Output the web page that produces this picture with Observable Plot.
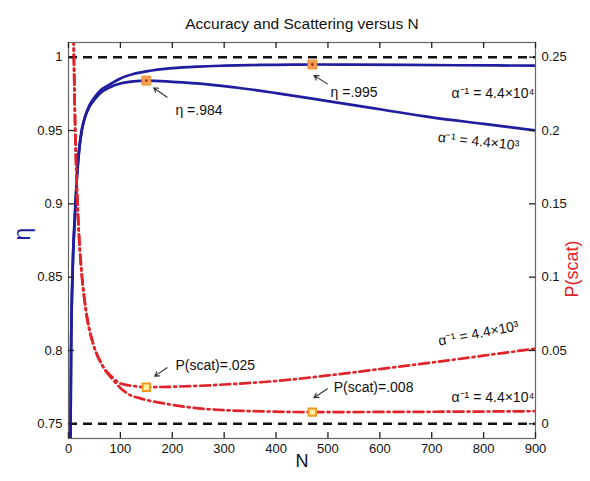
<!DOCTYPE html>
<html><head><meta charset="utf-8">
<script src="https://cdn.jsdelivr.net/npm/d3@7"></script>
<script src="https://cdn.jsdelivr.net/npm/@observablehq/plot@0.6"></script>
<style>
body{margin:0;background:#fff;}
#chart svg{font-family:"Liberation Sans",Arial,Helvetica,sans-serif;background:#fff;}
</style>
</head><body><div id="chart"></div>
<script>
// ---- data ----
const title = "Accuracy and Scattering versus N";
const xTicks = [0,100,200,300,400,500,600,700,800,900];
const etaTicks = [0.75,0.8,0.85,0.9,0.95,1];
const etaTickLabels = ["0.75","0.8","0.85","0.9","0.95","1"];
const pTickLabels = ["0","0.05","0.1","0.15","0.2","0.25"];
const refEta = [1, 0.75];

// eta, alpha^-1 = 4.4x10^4
const nEtaA4 = [3,5,8,12,16,20,25,30,40,50,60,80,100,125,150,200,250,300,350,400,470,550,650,750,900];
const etaA4  = [0.70,0.80,0.855,0.89,0.917,0.935,0.949,0.957,0.967,0.9725,0.9768,0.9815,0.9855,0.9885,0.9903,0.9925,0.9936,0.9942,0.9946,0.9948,0.995,0.9949,0.9947,0.9945,0.9942];
// eta, alpha^-1 = 4.4x10^3
const nEtaA3 = [3,5,8,12,16,20,25,30,40,50,60,80,100,125,150,200,268,330,400,500,600,700,800,900];
const etaA3  = [0.70,0.80,0.855,0.89,0.917,0.935,0.949,0.957,0.966,0.971,0.975,0.9795,0.982,0.9835,0.984,0.9832,0.9815,0.979,0.9755,0.970,0.9645,0.959,0.9545,0.950];
// P(scat), alpha^-1 = 4.4x10^3
const nPA3 = [8,10,12,15,19,25,30,36,48,65,87,100,125,150,200,250,300,350,400,500,600,700,800,900];
const pA3  = [0.32,0.26,0.217,0.173,0.137,0.104,0.087,0.072,0.054,0.040,0.031,0.0275,0.0258,0.025,0.0253,0.0259,0.0268,0.0279,0.0292,0.0330,0.0373,0.0418,0.0465,0.0513];
// P(scat), alpha^-1 = 4.4x10^4
const nPA4 = [8,10,12,15,19,25,30,36,48,65,87,100,113,140,178,242,307,371,470,600,750,900];
const pA4  = [0.32,0.26,0.217,0.173,0.137,0.104,0.087,0.072,0.054,0.040,0.0295,0.0245,0.0208,0.0172,0.0143,0.0109,0.0092,0.0085,0.0080,0.0081,0.0083,0.0086];

const etaMarkN = [150, 470];
const etaMarkV = [0.984, 0.995];
const pMarkN = [150, 470];
const pMarkV = [0.025, 0.008];

// annotations (anchored in data space: N, eta)
const noteText = ["η =.984", "η =.995", "P(scat)=.025", "P(scat)=.008"];
const noteN    = [206, 505, 206, 511];
const noteEta  = [0.9636, 0.9762, 0.7898, 0.7746];
const arrowN1  = [190, 499, 190, 499];
const arrowE1  = [0.9727, 0.9818, 0.7882, 0.7739];
const arrowN2  = [164, 473, 166, 473];
const arrowE2  = [0.9791, 0.9875, 0.7825, 0.7678];
const alphaBlue4 = {text: "α⁻¹ = 4.4×10⁴", n: 898, eta: 0.9752};
const alphaBlue3 = {text: "α⁻¹ = 4.4×10³", n: 790, eta: 0.9425};
const alphaRed3  = {text: "α⁻¹ = 4.4×10³", n: 790, eta: 0.8116};
const alphaRed4  = {text: "α⁻¹ = 4.4×10⁴", n: 898, eta: 0.7680};

// ---- build tables ----
const P0 = 0.75; // right axis: P(scat) = eta - 0.75
const blue4 = nEtaA4.map((n,i)=>({n, v: etaA4[i]}));
const blue3 = nEtaA3.map((n,i)=>({n, v: etaA3[i]}));
const red3 = nPA3.map((n,i)=>({n, v: pA3[i] + P0}));
const red4 = nPA4.map((n,i)=>({n, v: pA4[i] + P0}));
const etaMarks = etaMarkN.map((n,i)=>({n, v: etaMarkV[i]}));
const pMarks = pMarkN.map((n,i)=>({n, v: pMarkV[i] + P0}));
const notes = noteText.map((t,i)=>({t, n: noteN[i], v: noteEta[i], x1: arrowN1[i], y1: arrowE1[i], x2: arrowN2[i], y2: arrowE2[i]}));

const BLUE = "#1e1e9e", RED = "#e0242a";
const etaLabel = new Map(etaTicks.map((d,i)=>[d, etaTickLabels[i]]));
const pLabel = new Map(etaTicks.map((d,i)=>[d, pTickLabels[i]]));

const W = 590, H = 481, ML = 68, MR = 55, MT = 42, MB = 43;
const FW = W - ML - MR, FH = H - MT - MB, TICK = 6;
const tickStyle = {stroke: "#222", strokeWidth: 1.3};

const chart = Plot.plot({
  width: W, height: H,
  marginLeft: ML, marginRight: MR, marginTop: MT, marginBottom: MB,
  style: {fontFamily: "'Liberation Sans', Arial, sans-serif", fontSize: "13px", color: "#111"},
  x: {domain: [0, 900]},
  y: {domain: [0.74, 1.01]},
  marks: [
    Plot.ruleY(refEta, {stroke: "#111", strokeWidth: 2.5, strokeDasharray: "9,6"}),
    Plot.line(blue4, {x: "n", y: "v", stroke: BLUE, strokeWidth: 2.7, curve: "monotone-x", clip: true}),
    Plot.line(blue3, {x: "n", y: "v", stroke: BLUE, strokeWidth: 2.7, curve: "monotone-x", clip: true}),
    Plot.line(red3, {x: "n", y: "v", stroke: RED, strokeWidth: 2.7, strokeDasharray: "10,4,2,4", curve: "monotone-x", clip: true}),
    Plot.line(red4, {x: "n", y: "v", stroke: RED, strokeWidth: 2.7, strokeDasharray: "10,4,2,4", curve: "monotone-x", clip: true}),
    Plot.dot(etaMarks, {x: "n", y: "v", symbol: "square", r: 5, fill: "#f2a250", stroke: "#ea8c30", strokeWidth: 1}),
    Plot.dot(etaMarks, {x: "n", y: "v", r: 1.4, fill: "#b4282c"}),
    Plot.dot(pMarks, {x: "n", y: "v", symbol: "square", r: 4.2, fill: "#fff0a0", stroke: "#f09a20", strokeWidth: 2}),
    Plot.arrow(notes, {x1: "x1", y1: "y1", x2: "x2", y2: "y2", stroke: "#333", strokeWidth: 1.1, headLength: 7}),
    Plot.text(notes, {x: "n", y: "v", text: "t", textAnchor: "start", fontSize: 14, fill: "#111"}),
    Plot.text([alphaBlue4, alphaRed4], {x: "n", y: "eta", text: "text", textAnchor: "end", fontSize: 14, fill: "#111"}),
    Plot.text([alphaBlue3], {x: "n", y: "eta", text: "text", rotate: 6, fontSize: 14, fill: "#111"}),
    Plot.text([alphaRed3], {x: "n", y: "eta", text: "text", rotate: -11, fontSize: 14, fill: "#111"}),
    Plot.frame({stroke: "#666", strokeWidth: 1.2}),
    // inward ticks on all four sides (short rules inset from the frame)
    Plot.ruleX(xTicks, {x: d => d, insetTop: FH - TICK, ...tickStyle}),
    Plot.ruleX(xTicks, {x: d => d, insetBottom: FH - TICK, ...tickStyle}),
    Plot.ruleY(etaTicks, {y: d => d, insetRight: FW - TICK, ...tickStyle}),
    Plot.ruleY(etaTicks, {y: d => d, insetLeft: FW - TICK, ...tickStyle}),
    // tick labels
    Plot.axisX({anchor: "bottom", ticks: xTicks, tickSize: 0, tickPadding: 5, tickFormat: d => String(d), fontSize: 13, fill: "#111"}),
    Plot.axisY({anchor: "left", ticks: etaTicks, tickSize: 0, tickPadding: 6, tickFormat: d => etaLabel.get(d), fontSize: 13, fill: "#111"}),
    Plot.axisY({anchor: "right", ticks: etaTicks, tickSize: 0, tickPadding: 6, tickFormat: d => pLabel.get(d), fontSize: 13, fill: "#111"}),
    // titles
    Plot.text([title], {frameAnchor: "top", dy: -25, fontSize: 15.5, fill: "#111"}),
    Plot.text(["N"], {frameAnchor: "bottom", dy: 28, fontSize: 18, fill: "#111"}),
    Plot.text(["η"], {frameAnchor: "left", dx: -46, rotate: -90, fontSize: 23, fill: BLUE}),
    Plot.text(["P(scat)"], {frameAnchor: "right", dx: 37, rotate: -90, fontSize: 18, fill: RED})
  ]
});
document.getElementById("chart").appendChild(chart);
</script>
</body></html>
